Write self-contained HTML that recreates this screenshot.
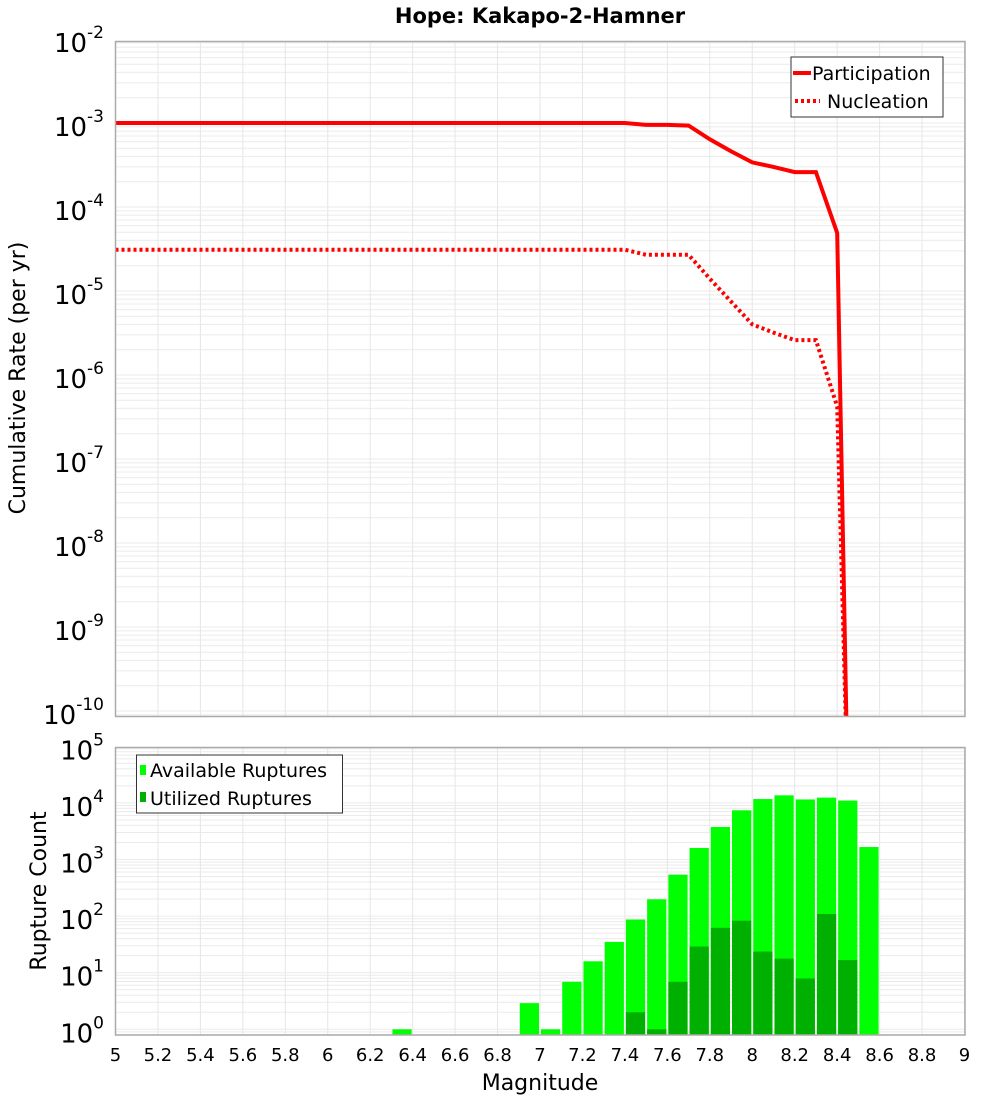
<!DOCTYPE html>
<html><head><meta charset="utf-8"><style>
body{margin:0;background:#fff;}
svg text{font-family:"DejaVu Sans","Liberation Sans",sans-serif;}
</style></head><body>
<svg id="chart" width="1000" height="1100" xmlns="http://www.w3.org/2000/svg">
<text x="540" y="23" text-anchor="middle" font-size="21" font-weight="bold">Hope: Kakapo-2-Hamner</text>
<g id="topG"></g>
<g id="botG"></g>
<text transform="translate(25,378) rotate(-90)" text-anchor="middle" font-size="22">Cumulative Rate (per yr)</text>
<text transform="translate(46,891) rotate(-90)" text-anchor="middle" font-size="22">Rupture Count</text>
<text x="540" y="1090" text-anchor="middle" font-size="22">Magnitude</text>
</svg>
<script>
const xTicks=[5,5.2,5.4,5.6,5.8,6,6.2,6.4,6.6,6.8,7,7.2,7.4,7.6,7.8,8,8.2,8.4,8.6,8.8,9];
const curveMags=[5,7.4,7.5,7.6,7.7,7.8,7.9,8.0,8.1,8.2,8.3,8.4,8.45];
const participation=[1e-3,1e-3,9.5e-4,9.5e-4,9.3e-4,6.4e-4,4.6e-4,3.4e-4,3.0e-4,2.6e-4,2.6e-4,4.9e-5,1e-11];
const nucleation=[3.1e-5,3.1e-5,2.7e-5,2.7e-5,2.7e-5,1.4e-5,7.5e-6,4.0e-6,3.2e-6,2.6e-6,2.6e-6,4.2e-7,1e-11];
const binCenters=[6.35,6.95,7.05,7.15,7.25,7.35,7.45,7.55,7.65,7.75,7.85,7.95,8.05,8.15,8.25,8.35,8.45,8.55];
const available=[1,2.9,1,6.9,15.9,35,87,198,540,1600,3750,7400,11700,13600,11500,12400,11000,1660];
const utilized=[0,0,0,0,0,0,2,1,6.9,29,62,83,23.6,17.7,7.9,109,16.7,0];
const topDecades=[-2,-3,-4,-5,-6,-7,-8,-9,-10];
const botDecades=[0,1,2,3,4,5];

const NS="http://www.w3.org/2000/svg";
const L=115.5,R=965;
const X=m=>L+(m-5)*212.25;
const TT=41.5,TB=716.5;
const YT=v=>123+(-3-Math.log10(v))*84;
const BT=747.5,BB=1035;
const YB=v=>1029.3-Math.log10(v)*56.6;
function el(p,t,a){const e=document.createElementNS(NS,t);for(const k in a)e.setAttribute(k,a[k]);p.appendChild(e);return e;}
const topG=document.getElementById('topG'),botG=document.getElementById('botG');

function grid(g,T,B,decs,Y,name){
  el(g,'rect',{x:L,y:T,width:R-L,height:B-T,fill:'#fff'});
  const gg=el(g,'g',{});
  
  
  const lo=Math.min(...decs)-1,hi=Math.max(...decs)+1;
  for(let d=lo;d<=hi;d++)for(let k=1;k<10;k++){
    const y=Y(k*Math.pow(10,d));
    if(y<T||y>B)continue;
    el(gg,'line',{x1:L,x2:R,y1:y,y2:y,stroke:'#ebebeb','stroke-width':1});
  }
  xTicks.forEach(t=>{const x=X(t);el(gg,'line',{x1:x,x2:x,y1:T,y2:B,stroke:'#e6e6e6','stroke-width':1});});
}
function frame(g,T,B,name){
  const r=el(g,'rect',{x:L,y:T,width:R-L,height:B-T,fill:'none',stroke:'#aaa','stroke-width':1.5});
  
  
}
function yLabels(g,decs,Y,name){
  decs.forEach(d=>{
    const y=Y(Math.pow(10,d));
    const t=el(g,'text',{x:104,y:y+13,'text-anchor':'end','font-size':26});
    
    
    const a=el(t,'tspan',{});a.textContent='10';
    const b=el(t,'tspan',{dy:-14,'font-size':17});b.textContent=String(d);
  });
}
grid(topG,TT,TB,topDecades,YT,'rate');
const clip=el(topG,'clipPath',{id:'cp'});el(clip,'rect',{x:L,y:TT,width:R-L,height:TB-TT});
function path(vals,dash,name){
  const d=curveMags.map((m,i)=>(i?'L':'M')+X(m).toFixed(1)+','+YT(vals[i]).toFixed(1)).join(' ');
  const p=el(topG,'path',{d:d,fill:'none',stroke:'#ff0000','stroke-width':4,'clip-path':'url(#cp)'});
  if(dash)p.setAttribute('stroke-dasharray','3,3');
  
  
}
path(participation,false,'participation-line');
path(nucleation,true,'nucleation-line');
frame(topG,TT,TB,'rate');
yLabels(topG,topDecades,YT,'rate-y');
const lg=el(topG,'g',{});


el(lg,'rect',{x:791,y:57,width:152,height:60,fill:'#fff',stroke:'#333','stroke-width':1});
el(lg,'line',{x1:793,x2:811,y1:73,y2:73,stroke:'#f00','stroke-width':4});
el(lg,'line',{x1:795,x2:820,y1:101,y2:101,stroke:'#f00','stroke-width':4,'stroke-dasharray':'3,3'});
let t1=el(lg,'text',{x:812,y:80,'font-size':19});t1.textContent='Participation';


let t2=el(lg,'text',{x:827,y:108,'font-size':19});t2.textContent='Nucleation';


grid(botG,BT,BB,botDecades,YB,'count');
binCenters.forEach((c,i)=>{
  const x0=X(c-0.05)+1,w=X(c+0.05)-X(c-0.05)-2;
  const ya=Math.max(BT,YB(available[i]));
  const r=el(botG,'rect',{x:x0,y:ya,width:w,height:BB-ya,fill:'#00ff00'});
  
  
  if(utilized[i]>0){
    const yu=YB(utilized[i]);
    const u=el(botG,'rect',{x:x0,y:yu,width:w,height:BB-yu,fill:'#00b000'});
    
    
  }
});
frame(botG,BT,BB,'count');
yLabels(botG,botDecades,YB,'count-y');
xTicks.forEach(t=>{
  const tx=el(botG,'text',{x:X(t),y:1061,'text-anchor':'middle','font-size':18});
  tx.textContent=String(t);
  
  
});
const lb=el(botG,'g',{});


el(lb,'rect',{x:136.5,y:755,width:206,height:58,fill:'#fff',stroke:'#333','stroke-width':1});
el(lb,'rect',{x:140,y:765,width:6,height:10,fill:'#00ff00'});
el(lb,'rect',{x:140,y:792,width:6,height:10,fill:'#00b000'});
let t3=el(lb,'text',{x:150,y:777,'font-size':19});t3.textContent='Available Ruptures';


let t4=el(lb,'text',{x:150,y:805,'font-size':19});t4.textContent='Utilized Ruptures';


</script>
</body></html>
